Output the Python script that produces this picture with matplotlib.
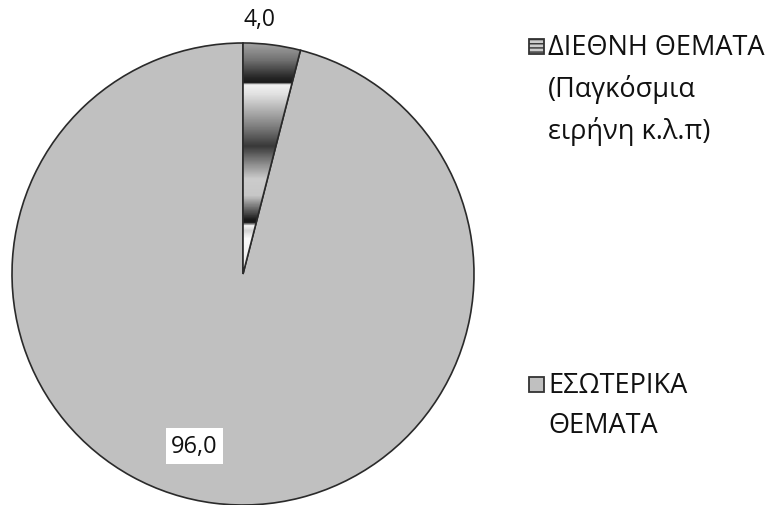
import numpy as np
import matplotlib.pyplot as plt
from matplotlib.patches import Rectangle
from matplotlib.colors import LinearSegmentedColormap

labels = ['ΔΙΕΘΝΗ ΘΕΜΑΤΑ\n(Παγκόσμια\nειρήνη κ.λ.π)', 'ΕΣΩΤΕΡΙΚΑ\nΘΕΜΑΤΑ']
values = [4.0, 96.0]
value_text = ['4,0', '96,0']

plt.rcParams['font.family'] = ['Open Sans', 'DejaVu Sans']

fig = plt.figure(figsize=(7.72, 5.06), dpi=100)
# pie centre at pixel (243, 275), radius 231
ax = fig.add_axes([(243 - 231) / 772, (506 - 275 - 231) / 506, 462 / 772, 462 / 506])

wedges, _ = ax.pie(values, startangle=90, counterclock=False,
                   colors=['white', '#c0c0c0'],
                   wedgeprops=dict(edgecolor='#2a2a2a', linewidth=1.2))

# metallic gradient inside small slice (pixel y -> grey level)
stops_px = [45, 60, 78, 83, 85, 95, 127, 147, 165, 180, 197, 212, 221, 224, 227, 232, 240, 275]
greys = [0.62, 0.45, 0.15, 0.1, 0.95, 0.88, 0.5, 0.22, 0.55, 0.8, 0.78, 0.35, 0.1, 0.1, 0.97, 0.82, 0.98, 0.9]
pos = [(p - 45) / (275 - 45) for p in stops_px]
cmap = LinearSegmentedColormap.from_list('metal', list(zip(pos, [(g, g, g) for g in greys])))
grad = np.linspace(0, 1, 400).reshape(-1, 1)
im = ax.imshow(grad, cmap=cmap, extent=[-0.05, 0.3, 0.0, (275 - 45) / 231], origin='upper',
               aspect='auto', interpolation='bilinear', zorder=2)
im.set_clip_path(wedges[0])
wedges[0].set_zorder(3)
wedges[0].set_facecolor('none')
ax.set_xlim(-1, 1)
ax.set_ylim(-1, 1)
ax.set_aspect('equal')

ax.text(0.07, 1.105, value_text[0], ha='center', va='center', fontsize=16.5, color='#111111')
ax.text(-0.21, -0.745, value_text[1], ha='center', va='center', fontsize=17, color='#111111',
        bbox=dict(facecolor='white', edgecolor='none', pad=4))

# legend
leg_y = [47, 385]
leg_col = ['#555555', '#c0c0c0']
for i in range(2):
    yb = 1 - (leg_y[i] + 8) / 506
    sq = Rectangle((529 / 772, yb), 15 / 772, 15 / 506, transform=fig.transFigure,
                   facecolor=leg_col[i], edgecolor='#333333', linewidth=1.3)
    if i == 0:
        sq.set_hatch('----')
        sq.set_facecolor('#cccccc')
    fig.patches.append(sq)
    fig.text(548 / 772, 1 - (leg_y[i] - 13) / 506, labels[i], ha='left', va='top',
             fontsize=19.5, linespacing=1.58, color='#111111')

fig.savefig('out.png', dpi=100)
